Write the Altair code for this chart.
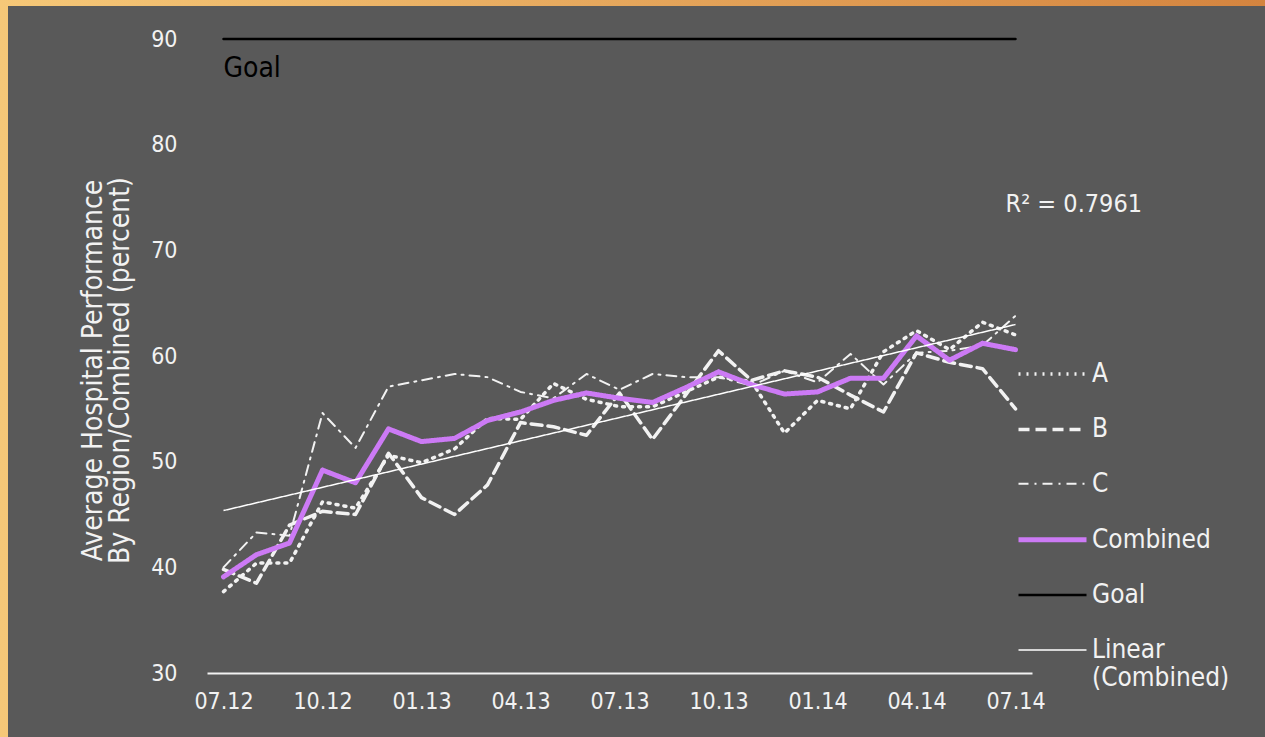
import json
import altair as alt
import pandas as pd

FONT = "DejaVu Sans Condensed"

# ---- data ----
months = ["07.12", "08.12", "09.12", "10.12", "11.12", "12.12", "01.13", "02.13", "03.13",
          "04.13", "05.13", "06.13", "07.13", "08.13", "09.13", "10.13", "11.13", "12.13",
          "01.14", "02.14", "03.14", "04.14", "05.14", "06.14", "07.14"]
tick_labels = ["07.12", "10.12", "01.13", "04.13", "07.13", "10.13", "01.14", "04.14", "07.14"]

series_a = [37.7, 40.4, 40.4, 46.2, 45.6, 50.6, 49.9, 51.2, 54.1, 54.0, 57.4, 55.9, 55.2,
            55.2, 56.6, 58.0, 57.6, 52.7, 55.8, 55.0, 60.4, 62.4, 60.6, 63.2, 62.0]
series_b = [39.8, 38.5, 44.0, 45.3, 45.0, 50.8, 46.6, 45.0, 47.8, 53.7, 53.3, 52.5, 56.5,
            52.1, 56.3, 60.5, 57.7, 58.6, 58.0, 56.3, 54.7, 60.3, 59.4, 58.8, 55.0]
series_c = [40.0, 43.3, 43.0, 54.6, 51.3, 57.1, 57.7, 58.3, 58.0, 56.6, 56.0, 58.3, 56.8,
            58.3, 58.0, 58.0, 57.2, 58.6, 57.5, 60.2, 57.3, 60.3, 60.5, 61.0, 63.8]
combined = [39.1, 41.2, 42.3, 49.2, 48.0, 53.1, 51.9, 52.2, 53.9, 54.7, 55.8, 56.5, 56.0,
            55.6, 57.0, 58.5, 57.3, 56.4, 56.6, 57.9, 57.9, 61.9, 59.6, 61.2, 60.6]
goal = [90] * 25

series_names = ["A", "B", "C", "Combined", "Goal", "Linear (Combined)"]
series_colors = ["#f2f2f2", "#f2f2f2", "#f2f2f2", "#cc7af5", "#000000", "#ffffff"]
series_dashes = [[2, 6], [11, 6], [10, 6, 2, 6], [1, 0], [1, 0], [1, 0]]
series_widths = [3.5, 3.5, 2, 5, 2.5, 1.5]

goal_label = "Goal"
r2_label = "R\u00b2 = 0.7961"
r2_pos = {"idx": 23.7, "value": 74.4}
y_title = ["Average Hospital Performance", "By Region/Combined (percent)"]

# ---- tables ----
rows = []
for name, vals in [("A", series_a), ("B", series_b), ("C", series_c), ("Goal", goal), ("Combined", combined)]:
    for i, v in enumerate(vals):
        rows.append({"idx": i, "month": months[i], "series": name, "value": v})
df = pd.DataFrame(rows)

x_enc = alt.X(
    "idx:Q",
    scale=alt.Scale(domain=[-0.5, 24.5], nice=False, zero=False),
    axis=alt.Axis(
        values=list(range(0, 25, 3)),
        labelExpr=json.dumps(tick_labels) + "[round(datum.value / 3)]",
        title=None, grid=False, ticks=False, zindex=1,
        domainColor="#f2f2f2", domainWidth=2,
        labelColor="#f2f2f2", labelFontSize=23, labelFont=FONT, labelPadding=17,
    ),
)
y_enc = alt.Y(
    "value:Q",
    scale=alt.Scale(domain=[30, 90], nice=False, zero=False),
    axis=alt.Axis(
        values=list(range(30, 91, 10)),
        title=y_title, titleColor="#f2f2f2", titleFont=FONT, titleFontSize=28,
        titleFontWeight="normal", titleAngle=270, titleAlign="center", titleBaseline="middle",
        titleX=-114, titleY=331, titleLineHeight=27,
        grid=False, ticks=False, domain=False, zindex=1,
        labelColor="#f2f2f2", labelFontSize=23, labelFont=FONT, labelPadding=30,
    ),
)
legend_label_expr = "datum.label == 'Linear (Combined)' ? ['Linear', '(Combined)'] : datum.label"
leg = alt.Legend(title=None, labelExpr=legend_label_expr)
stroke_enc = alt.Stroke("series:N", scale=alt.Scale(domain=series_names, range=series_colors), legend=leg)
dash_enc = alt.StrokeDash("series:N", scale=alt.Scale(domain=series_names, range=series_dashes), legend=leg)
width_enc = alt.StrokeWidth("series:N", scale=alt.Scale(type="ordinal", domain=series_names, range=series_widths),
                            legend=leg)

frame = alt.Chart(alt.Data(values=[{}])).mark_rect(
    fill=alt.Gradient(gradient="linear", x1=0, x2=1, y1=0, y2=0,
                      stops=[alt.GradientStop(color="#f6c878", offset=0),
                             alt.GradientStop(color="#d4843f", offset=1)])
).encode(x=alt.value(-207), x2=alt.value(1058), y=alt.value(-39), y2=alt.value(698))

panel = alt.Chart(alt.Data(values=[{}])).mark_rect(color="#595959").encode(
    x=alt.value(-199), x2=alt.value(1058), y=alt.value(-33), y2=alt.value(698)
)

base = alt.Chart(df)
lines_abc = base.transform_filter("datum.series != 'Combined'").mark_line(strokeCap="round", strokeJoin="round").encode(
    x=x_enc, y=y_enc, stroke=stroke_enc, strokeDash=dash_enc, strokeWidth=width_enc, detail="series:N"
)
line_comb = base.transform_filter("datum.series == 'Combined'").mark_line(strokeCap="round", strokeJoin="round").encode(
    x=x_enc, y=y_enc, stroke=stroke_enc, strokeDash=dash_enc, strokeWidth=width_enc
)
trend = base.transform_filter("datum.series == 'Combined'").transform_regression(
    "idx", "value"
).transform_calculate(series="'Linear (Combined)'").mark_line().encode(
    x=x_enc, y=y_enc, stroke=stroke_enc, strokeDash=dash_enc, strokeWidth=width_enc
)

goal_text = alt.Chart(alt.Data(values=[{"idx": 0, "value": goal[0], "t": goal_label}])).mark_text(
    align="left", baseline="alphabetic", dy=38, fontSize=28, font=FONT, color="#000000"
).encode(x=alt.X("idx:Q"), y=alt.Y("value:Q"), text="t:N")

r2_text = alt.Chart(alt.Data(values=[{**r2_pos, "t": r2_label}])).mark_text(
    align="left", baseline="middle", fontSize=25, font=FONT, color="#f2f2f2"
).encode(x=alt.X("idx:Q"), y=alt.Y("value:Q"), text="t:N")

chart = alt.layer(frame, panel, lines_abc, line_comb, trend, goal_text, r2_text).properties(
    width=825, height=634,
    padding={"left": 207, "top": 39, "right": 233, "bottom": 64},
    autosize=alt.AutoSizeParams(type="none"),
).configure(
    background="#595959",
).configure_view(
    stroke=None,
).configure_legend(
    orient="none", legendX=809, legendY=299, padding=0,
    symbolType="stroke", symbolSize=4624,
    labelColor="#f2f2f2", labelFontSize=26, labelFont=FONT, labelOffset=3,
    rowPadding=6.4, labelLimit=300,
)

chart.save("out.html", embed_options={"renderer": "svg", "actions": False})
